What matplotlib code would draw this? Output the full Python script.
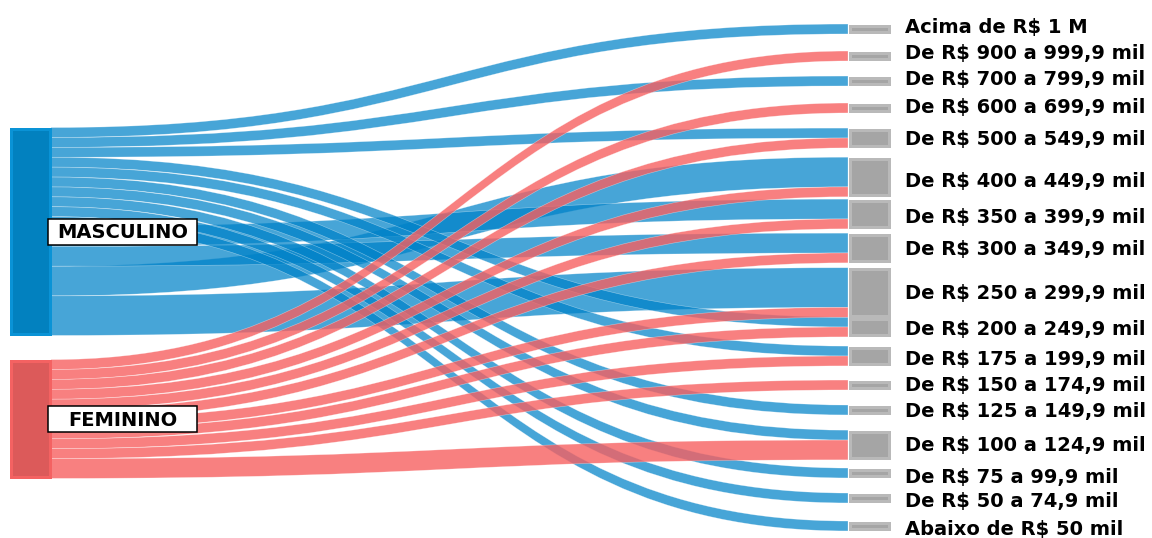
import matplotlib
matplotlib.use("Agg")
import matplotlib.pyplot as plt
from matplotlib.path import Path
from matplotlib.patches import PathPatch, Rectangle

plt.rcParams["text.parse_math"] = False
plt.rcParams["font.family"] = ["DejaVu Sans"]

# ---------------- data ----------------
sources = ["MASCULINO", "FEMININO"]

targets = [
    "Acima de R$ 1 M",
    "De R$ 900 a 999,9 mil",
    "De R$ 700 a 799,9 mil",
    "De R$ 600 a 699,9 mil",
    "De R$ 500 a 549,9 mil",
    "De R$ 400 a 449,9 mil",
    "De R$ 350 a 399,9 mil",
    "De R$ 300 a 349,9 mil",
    "De R$ 250 a 299,9 mil",
    "De R$ 200 a 249,9 mil",
    "De R$ 175 a 199,9 mil",
    "De R$ 150 a 174,9 mil",
    "De R$ 125 a 149,9 mil",
    "De R$ 100 a 124,9 mil",
    "De R$ 75 a 99,9 mil",
    "De R$ 50 a 74,9 mil",
    "Abaixo de R$ 50 mil",
]

masculino = [1, 0, 1, 0, 1, 3, 2, 2, 4, 1, 1, 0, 1, 1, 1, 1, 1]
feminino = [0, 1, 0, 1, 1, 1, 1, 1, 1, 1, 1, 1, 0, 2, 0, 0, 0]

flows = [masculino, feminino]

# ---------------- layout (pixel space) ----------------
W, H = 1152, 538
unit = 9.9                      # pixels per unit of value
src_x = (9, 51)
tgt_x = (848, 890)
src_mid = [231.5, 419.0]
tgt_mid = [29, 56, 81, 108, 138, 177, 214, 248, 292.5, 327,
           356, 385, 410, 445, 473, 498, 526]
label_x = 905
label_nudge = [-2, -2, -1, 0, 2, 5, 3, 1, 1, 2, 3, 1, 2, 0, 4, 4, 3]
border = 3.0                    # node outline width in px

link_colors = [(0 / 255, 130 / 255, 200 / 255, 0.72),
               (247 / 255, 96 / 255, 96 / 255, 0.80)]
src_fill = ["#0281BF", "#DC5A5A"]
src_edge = ["#0A93D6", "#F46262"]
tgt_fill = "#A5A5A5"
tgt_edge = "#B9B9B9"

px_to_pt = 72 / 100
font_size = 14

fig = plt.figure(figsize=(W / 100, H / 100), dpi=100)
ax = fig.add_axes([0, 0, 1, 1])
ax.set_xlim(0, W)
ax.set_ylim(H, 0)
ax.axis("off")

# node sizes from the data
src_tot = [sum(f) for f in flows]
tgt_tot = [sum(f[t] for f in flows) for t in range(len(targets))]
src_top = [m - v * unit / 2 for m, v in zip(src_mid, src_tot)]
tgt_top = [m - v * unit / 2 for m, v in zip(tgt_mid, tgt_tot)]

# offsets of each link at its source: smaller flows first, then target order
src_off = {}
for s, f in enumerate(flows):
    y = src_top[s]
    for t in sorted([t for t in range(len(targets)) if f[t] > 0],
                    key=lambda t: (f[t], t)):
        src_off[(s, t)] = y
        y += f[t] * unit

# offsets of each link at its target: sources in order
tgt_off = {}
for t in range(len(targets)):
    y = tgt_top[t]
    for s, f in enumerate(flows):
        if f[t] > 0:
            tgt_off[(s, t)] = y
            y += f[t] * unit

x0, x1 = src_x[1], tgt_x[0]
xm = (x0 + x1) / 2
for s, f in enumerate(flows):
    for t in range(len(targets)):
        v = f[t]
        if v <= 0:
            continue
        h = v * unit
        ys, yt = src_off[(s, t)], tgt_off[(s, t)]
        verts = [(x0, ys), (xm, ys), (xm, yt), (x1, yt),
                 (x1, yt + h),
                 (xm, yt + h), (xm, ys + h), (x0, ys + h),
                 (x0, ys)]
        codes = [Path.MOVETO, Path.CURVE4, Path.CURVE4, Path.CURVE4,
                 Path.LINETO,
                 Path.CURVE4, Path.CURVE4, Path.CURVE4,
                 Path.CLOSEPOLY]
        ax.add_patch(PathPatch(Path(verts, codes), facecolor=link_colors[s],
                               edgecolor=(1, 1, 1, 0.45), linewidth=0.4,
                               zorder=2 + s))


def node(x_pair, top, height, fc, ec):
    xa, xb = x_pair
    ax.add_patch(Rectangle((xa + border / 2, top + border / 2),
                           xb - xa - border, height - border,
                           facecolor=fc, edgecolor=ec,
                           linewidth=border * px_to_pt, zorder=5))


for s in range(len(sources)):
    node(src_x, src_top[s], src_tot[s] * unit, src_fill[s], src_edge[s])

for t in range(len(targets)):
    node(tgt_x, tgt_top[t], tgt_tot[t] * unit, tgt_fill, tgt_edge)
    ax.text(label_x, tgt_mid[t] + label_nudge[t], targets[t],
            fontsize=font_size, fontweight="bold", color="black",
            ha="left", va="center", zorder=6)

# source labels in white boxes
box_x, box_w, box_h = 48, 149, 26
for s, name in enumerate(sources):
    ax.add_patch(Rectangle((box_x, src_mid[s] - box_h / 2), box_w, box_h,
                           facecolor="white", edgecolor="black",
                           linewidth=1.1, zorder=7))
    ax.text(box_x + box_w / 2, src_mid[s] + 1, name, fontsize=font_size,
            fontweight="bold", color="black", ha="center", va="center",
            zorder=8)

fig.savefig("out.png", dpi=100)
